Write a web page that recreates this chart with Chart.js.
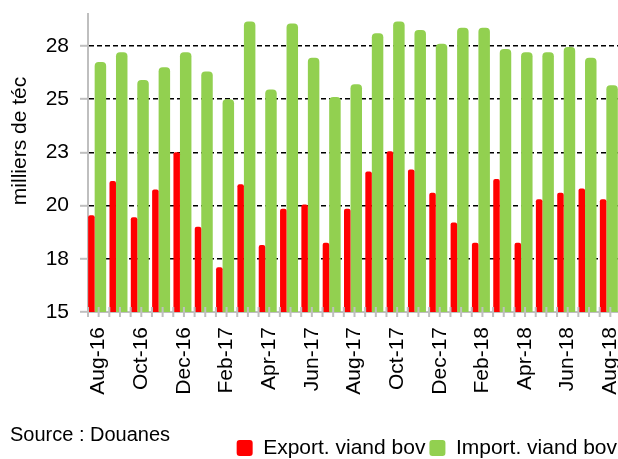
<!DOCTYPE html>
<html>
<head>
<meta charset="utf-8">
<script src="https://cdn.jsdelivr.net/npm/chart.js@4"></script>
<style>
  body { margin: 0; background: #fff; overflow: hidden; }
  #wrap { position: relative; width: 618px; height: 459px; overflow: hidden; font-family: 'Liberation Sans', Arial, sans-serif; }
  #yTitle {
    position: absolute; left: -81px; top: 130px; width: 200px; height: 22px;
    line-height: 22px; font-size: 21px; text-align: center; color: #000;
    transform: rotate(-90deg);
  }
  #source { position: absolute; left: 10px; top: 424px; font-size: 20px; line-height: 20px; color: #000; }
</style>
</head>
<body>
<div id="wrap">
  <canvas id="chart" width="621" height="459"></canvas>
  <div id="yTitle">milliers de téc</div>
  <div id="source">Source : Douanes</div>
</div>
<script>
const months = ['Aug-16', 'Sep-16', 'Oct-16', 'Nov-16', 'Dec-16', 'Jan-17', 'Feb-17', 'Mar-17', 'Apr-17',
  'May-17', 'Jun-17', 'Jul-17', 'Aug-17', 'Sep-17', 'Oct-17', 'Nov-17', 'Dec-17', 'Jan-18', 'Feb-18',
  'Mar-18', 'Apr-18', 'May-18', 'Jun-18', 'Jul-18', 'Aug-18'];
const exportViande = [19.55, 21.15, 19.45, 20.75, 22.5, 19.0, 17.1, 21.0, 18.15, 19.85, 20.05, 18.25, 19.85,
  21.6, 22.55, 21.7, 20.6, 19.2, 18.25, 21.25, 18.25, 20.3, 20.6, 20.8, 20.3];
const importViande = [26.75, 27.2, 25.9, 26.5, 27.2, 26.3, 25.0, 28.65, 25.45, 28.55, 26.95, 25.1, 25.7,
  28.1, 28.65, 28.25, 27.6, 28.35, 28.35, 27.35, 27.2, 27.2, 27.45, 26.95, 25.65];
const yTickValues = [15, 17.5, 20, 22.5, 25, 27.5];
const yTickLabels = ['15', '18', '20', '23', '25', '28'];

const font = { family: "'Liberation Sans', Arial, sans-serif", size: 21 };
const axisGrey = '#BFBFBF';

// small crossing tick marks on the category axis, every half category
const xTickMarks = {
  id: 'xTickMarks',
  afterDatasetsDraw(chart) {
    const x = chart.scales.x;
    const ctx = chart.ctx;
    const half = (x.getPixelForValue(1) - x.getPixelForValue(0)) / 2;
    const y = x.top;
    ctx.save();
    ctx.strokeStyle = axisGrey;
    ctx.lineWidth = 2;
    ctx.beginPath();
    for (let i = 0; i < months.length; i++) {
      const c = x.getPixelForValue(i);
      [c - half, c, c + half].forEach(px => {
        ctx.moveTo(px, y - 5);
        ctx.lineTo(px, y + 5);
      });
    }
    ctx.stroke();
    ctx.restore();
  }
};

new Chart(document.getElementById('chart'), {
  type: 'bar',
  data: {
    labels: months,
    datasets: [{
      label: 'Export. viand bov',
      data: exportViande,
      backgroundColor: '#FF0000',
      categoryPercentage: 1.36,
      barPercentage: 0.448,
      borderRadius: { topLeft: 2, topRight: 2 },
      borderSkipped: 'start'
    }, {
      label: 'Import. viand bov',
      data: importViande,
      backgroundColor: '#92D050',
      categoryPercentage: 0.328,
      barPercentage: 3.286,
      borderRadius: { topLeft: 4, topRight: 4 },
      borderSkipped: 'start'
    }]
  },
  options: {
    responsive: false,
    animation: false,
    devicePixelRatio: 1,
    layout: { padding: { top: 14, right: 0, bottom: -9.5, left: 0 } },
    plugins: {
      tooltip: { enabled: false },
      legend: {
        position: 'bottom',
        align: 'end',
        labels: {
          font: font,
          color: '#000',
          boxWidth: 16,
          boxHeight: 16,
          padding: 4,
          useBorderRadius: true,
          borderRadius: 3
        }
      }
    },
    scales: {
      x: {
        afterFit(scale) {
          scale.height = 121.5;
          scale.paddingLeft = 0;
          scale.paddingRight = 0;
        },
        grid: { display: false, drawTicks: false },
        border: { color: axisGrey, width: 2 },
        ticks: {
          autoSkip: false,
          minRotation: 90,
          maxRotation: 90,
          padding: 15,
          color: '#000',
          font: font,
          callback: (value, index) => index % 2 === 0 ? months[index] : ''
        }
      },
      y: {
        min: 15,
        max: 29,
        afterFit(scale) {
          scale.width = 88;
          scale.paddingTop = 0;
          scale.paddingBottom = 0;
        },
        afterBuildTicks(scale) { scale.ticks = yTickValues.map(v => ({ value: v })); },
        grid: {
          color: ctx => ctx.tick && ctx.tick.value === 15 ? 'rgba(0,0,0,0)' : '#000',
          lineWidth: 1.6,
          tickColor: axisGrey,
          tickLength: 8,
          tickWidth: 2
        },
        border: { color: axisGrey, width: 2, dash: [5, 3] },
        ticks: {
          padding: 11,
          color: '#000',
          font: font,
          callback: value => yTickLabels[yTickValues.indexOf(value)]
        }
      }
    }
  },
  plugins: [xTickMarks]
});
</script>
</body>
</html>
